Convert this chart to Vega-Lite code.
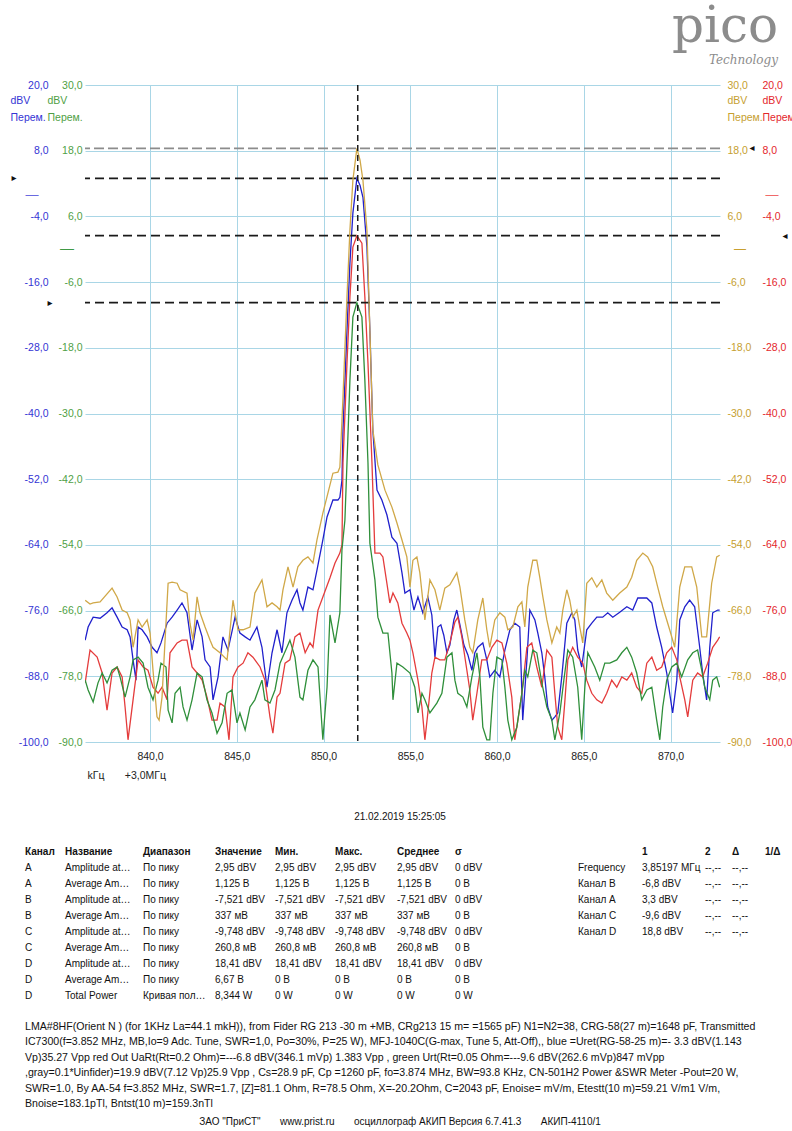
{
"$schema": "https://vega.github.io/schema/vega-lite/v6.json",
"padding": {"left": 10, "top": 2, "right": 0, "bottom": 0},
"background": "white",
"config": {
  "locale": {"number": {"decimal": ",", "thousands": " ", "grouping": [3], "currency": ["", ""], "minus": "-"}},
  "view": {"stroke": null},
  "font": "Liberation Sans",
  "axis": {"labelFont": "Liberation Sans", "titleFont": "Liberation Sans", "labelFontSize": 10.5, "titleFontSize": 10.5, "titleFontWeight": "normal", "labelFlush": false, "labelOverlap": false, "labelBound": false, "domain": false, "ticks": false, "tickSize": 0, "gridColor": "#a9d6e6", "gridOpacity": 1, "gridWidth": 1},
  "text": {"font": "Liberation Sans", "fontSize": 10.5, "color": "#111111"}
},
"datasets": {
  "A": [{"kHz":836.26,"dBV":-81.4},{"kHz":836.43,"dBV":-79.0},{"kHz":836.72,"dBV":-77.2},{"kHz":837.12,"dBV":-77.4},{"kHz":837.52,"dBV":-76.4},{"kHz":837.81,"dBV":-75.5},{"kHz":838.10,"dBV":-77.2},{"kHz":838.39,"dBV":-79.0},{"kHz":838.68,"dBV":-79.5},{"kHz":838.85,"dBV":-80.8},{"kHz":839.02,"dBV":-85.0},{"kHz":839.19,"dBV":-88.7},{"kHz":839.31,"dBV":-79.0},{"kHz":839.54,"dBV":-79.5},{"kHz":839.83,"dBV":-80.8},{"kHz":840.12,"dBV":-82.7},{"kHz":840.40,"dBV":-83.7},{"kHz":840.63,"dBV":-81.9},{"kHz":840.98,"dBV":-78.3},{"kHz":841.27,"dBV":-77.2},{"kHz":841.56,"dBV":-75.9},{"kHz":841.84,"dBV":-74.6},{"kHz":842.13,"dBV":-76.4},{"kHz":842.42,"dBV":-83.2},{"kHz":842.71,"dBV":-77.7},{"kHz":843.00,"dBV":-80.8},{"kHz":843.17,"dBV":-85.0},{"kHz":843.46,"dBV":-86.3},{"kHz":843.63,"dBV":-92.3},{"kHz":843.92,"dBV":-88.1},{"kHz":844.20,"dBV":-80.8},{"kHz":844.49,"dBV":-83.2},{"kHz":844.90,"dBV":-77.2},{"kHz":845.18,"dBV":-80.1},{"kHz":845.48,"dBV":-80.8},{"kHz":845.76,"dBV":-81.4},{"kHz":846.16,"dBV":-79.0},{"kHz":846.45,"dBV":-82.7},{"kHz":846.74,"dBV":-90.0},{"kHz":847.03,"dBV":-83.7},{"kHz":847.32,"dBV":-79.5},{"kHz":847.60,"dBV":-83.7},{"kHz":847.89,"dBV":-76.4},{"kHz":848.18,"dBV":-74.1},{"kHz":848.47,"dBV":-72.2},{"kHz":848.64,"dBV":-74.6},{"kHz":848.81,"dBV":-75.9},{"kHz":849.10,"dBV":-71.7},{"kHz":849.39,"dBV":-72.2},{"kHz":849.62,"dBV":-68.6},{"kHz":849.96,"dBV":-63.1},{"kHz":850.20,"dBV":-58.9},{"kHz":850.54,"dBV":-55.8},{"kHz":850.83,"dBV":-55.8},{"kHz":850.94,"dBV":-55.3},{"kHz":851.06,"dBV":-52.2},{"kHz":851.12,"dBV":-43.0},{"kHz":851.35,"dBV":-24.8},{"kHz":851.52,"dBV":-12.5},{"kHz":851.69,"dBV":-3.4},{"kHz":851.92,"dBV":2.95},{"kHz":852.10,"dBV":1.7},{"kHz":852.27,"dBV":-0.5},{"kHz":852.50,"dBV":-9.6},{"kHz":852.67,"dBV":-24.8},{"kHz":852.84,"dBV":-43.0},{"kHz":853.08,"dBV":-54.0},{"kHz":853.36,"dBV":-55.8},{"kHz":853.65,"dBV":-58.5},{"kHz":853.94,"dBV":-62.6},{"kHz":854.23,"dBV":-63.7},{"kHz":854.52,"dBV":-69.1},{"kHz":854.69,"dBV":-72.8},{"kHz":854.98,"dBV":-72.2},{"kHz":855.21,"dBV":-75.9},{"kHz":855.44,"dBV":-73.5},{"kHz":855.72,"dBV":-76.4},{"kHz":856.01,"dBV":-73.5},{"kHz":856.24,"dBV":-76.8},{"kHz":856.42,"dBV":-84.5},{"kHz":856.59,"dBV":-79.0},{"kHz":856.76,"dBV":-78.6},{"kHz":856.93,"dBV":-80.5},{"kHz":857.11,"dBV":-83.7},{"kHz":857.28,"dBV":-82.3},{"kHz":857.51,"dBV":-77.7},{"kHz":857.68,"dBV":-75.9},{"kHz":857.86,"dBV":-78.6},{"kHz":858.09,"dBV":-82.3},{"kHz":858.32,"dBV":-84.1},{"kHz":858.55,"dBV":-86.9},{"kHz":858.72,"dBV":-83.7},{"kHz":858.89,"dBV":-82.7},{"kHz":859.18,"dBV":-81.9},{"kHz":859.41,"dBV":-85.0},{"kHz":859.58,"dBV":-88.1},{"kHz":859.87,"dBV":-86.9},{"kHz":860.16,"dBV":-88.1},{"kHz":860.45,"dBV":-83.2},{"kHz":860.74,"dBV":-79.5},{"kHz":861.02,"dBV":-78.3},{"kHz":861.31,"dBV":-79.0},{"kHz":861.48,"dBV":-96.0},{"kHz":861.72,"dBV":-85.0},{"kHz":861.89,"dBV":-75.9},{"kHz":862.18,"dBV":-77.7},{"kHz":862.35,"dBV":-80.1},{"kHz":862.58,"dBV":-83.7},{"kHz":862.75,"dBV":-88.1},{"kHz":862.92,"dBV":-93.6},{"kHz":863.16,"dBV":-96.0},{"kHz":863.33,"dBV":-95.4},{"kHz":863.50,"dBV":-94.7},{"kHz":863.73,"dBV":-88.1},{"kHz":864.02,"dBV":-78.3},{"kHz":864.31,"dBV":-76.4},{"kHz":864.48,"dBV":-77.7},{"kHz":864.65,"dBV":-83.2},{"kHz":864.88,"dBV":-86.3},{"kHz":865.17,"dBV":-79.5},{"kHz":865.46,"dBV":-78.3},{"kHz":865.75,"dBV":-77.2},{"kHz":866.09,"dBV":-77.2},{"kHz":866.38,"dBV":-76.4},{"kHz":866.67,"dBV":-77.2},{"kHz":867.07,"dBV":-76.3},{"kHz":867.48,"dBV":-75.3},{"kHz":867.82,"dBV":-75.9},{"kHz":868.11,"dBV":-73.7},{"kHz":868.63,"dBV":-73.7},{"kHz":868.92,"dBV":-74.6},{"kHz":869.20,"dBV":-79.0},{"kHz":869.49,"dBV":-82.7},{"kHz":869.78,"dBV":-87.4},{"kHz":869.95,"dBV":-91.1},{"kHz":870.12,"dBV":-94.7},{"kHz":870.36,"dBV":-88.7},{"kHz":870.53,"dBV":-77.7},{"kHz":870.82,"dBV":-75.3},{"kHz":871.10,"dBV":-74.1},{"kHz":871.39,"dBV":-75.3},{"kHz":871.68,"dBV":-82.7},{"kHz":871.85,"dBV":-87.4},{"kHz":872.08,"dBV":-92.3},{"kHz":872.26,"dBV":-82.7},{"kHz":872.43,"dBV":-76.4},{"kHz":872.72,"dBV":-75.9},{"kHz":872.83,"dBV":-75.9}],
  "B": [{"kHz":836.26,"dBV":-89.2},{"kHz":836.54,"dBV":-83.2},{"kHz":836.95,"dBV":-84.5},{"kHz":837.24,"dBV":-87.4},{"kHz":837.52,"dBV":-94.2},{"kHz":837.81,"dBV":-87.4},{"kHz":838.10,"dBV":-86.3},{"kHz":838.39,"dBV":-88.1},{"kHz":838.56,"dBV":-93.6},{"kHz":838.73,"dBV":-99.6},{"kHz":839.02,"dBV":-92.3},{"kHz":839.31,"dBV":-85.0},{"kHz":839.60,"dBV":-86.3},{"kHz":839.88,"dBV":-86.9},{"kHz":840.17,"dBV":-90.0},{"kHz":840.46,"dBV":-91.1},{"kHz":840.69,"dBV":-90.0},{"kHz":840.98,"dBV":-92.3},{"kHz":841.15,"dBV":-83.7},{"kHz":841.56,"dBV":-81.9},{"kHz":841.84,"dBV":-81.4},{"kHz":842.13,"dBV":-81.4},{"kHz":842.42,"dBV":-86.3},{"kHz":842.71,"dBV":-87.4},{"kHz":843.00,"dBV":-88.7},{"kHz":843.28,"dBV":-91.8},{"kHz":843.57,"dBV":-96.0},{"kHz":843.86,"dBV":-96.0},{"kHz":844.03,"dBV":-92.9},{"kHz":844.32,"dBV":-93.6},{"kHz":844.55,"dBV":-99.6},{"kHz":844.78,"dBV":-88.1},{"kHz":845.07,"dBV":-86.3},{"kHz":845.36,"dBV":-85.6},{"kHz":845.64,"dBV":-83.7},{"kHz":845.93,"dBV":-84.5},{"kHz":846.34,"dBV":-86.3},{"kHz":846.62,"dBV":-88.7},{"kHz":846.91,"dBV":-95.4},{"kHz":847.08,"dBV":-98.4},{"kHz":847.32,"dBV":-91.8},{"kHz":847.49,"dBV":-91.1},{"kHz":847.78,"dBV":-85.6},{"kHz":848.06,"dBV":-85.0},{"kHz":848.35,"dBV":-80.8},{"kHz":848.64,"dBV":-80.1},{"kHz":848.94,"dBV":-83.7},{"kHz":849.22,"dBV":-81.9},{"kHz":849.39,"dBV":-82.7},{"kHz":849.68,"dBV":-75.9},{"kHz":849.96,"dBV":-73.5},{"kHz":850.37,"dBV":-70.0},{"kHz":850.66,"dBV":-67.3},{"kHz":850.94,"dBV":-65.5},{"kHz":851.06,"dBV":-64.0},{"kHz":851.12,"dBV":-49.0},{"kHz":851.35,"dBV":-30.8},{"kHz":851.52,"dBV":-18.7},{"kHz":851.69,"dBV":-9.6},{"kHz":851.92,"dBV":-7.52},{"kHz":852.21,"dBV":-8.9},{"kHz":852.38,"dBV":-18.7},{"kHz":852.56,"dBV":-30.8},{"kHz":852.79,"dBV":-49.0},{"kHz":852.96,"dBV":-65.5},{"kHz":853.25,"dBV":-65.5},{"kHz":853.42,"dBV":-66.2},{"kHz":853.65,"dBV":-71.0},{"kHz":853.82,"dBV":-74.6},{"kHz":854.00,"dBV":-72.8},{"kHz":854.28,"dBV":-74.6},{"kHz":854.52,"dBV":-78.3},{"kHz":854.80,"dBV":-80.1},{"kHz":854.98,"dBV":-81.4},{"kHz":855.15,"dBV":-83.7},{"kHz":855.44,"dBV":-88.7},{"kHz":855.67,"dBV":-93.6},{"kHz":855.84,"dBV":-99.6},{"kHz":856.01,"dBV":-94.7},{"kHz":856.24,"dBV":-87.4},{"kHz":856.42,"dBV":-84.5},{"kHz":856.70,"dBV":-85.0},{"kHz":856.99,"dBV":-85.0},{"kHz":857.28,"dBV":-81.9},{"kHz":857.57,"dBV":-78.1},{"kHz":857.74,"dBV":-77.2},{"kHz":857.97,"dBV":-80.8},{"kHz":858.26,"dBV":-86.9},{"kHz":858.43,"dBV":-90.5},{"kHz":858.60,"dBV":-96.0},{"kHz":858.84,"dBV":-91.1},{"kHz":859.12,"dBV":-85.0},{"kHz":859.41,"dBV":-85.0},{"kHz":859.70,"dBV":-82.7},{"kHz":859.99,"dBV":-81.4},{"kHz":860.28,"dBV":-81.9},{"kHz":860.56,"dBV":-85.6},{"kHz":860.85,"dBV":-91.8},{"kHz":861.02,"dBV":-99.6},{"kHz":861.20,"dBV":-96.0},{"kHz":861.43,"dBV":-91.1},{"kHz":861.72,"dBV":-82.7},{"kHz":862.00,"dBV":-81.9},{"kHz":862.29,"dBV":-86.3},{"kHz":862.58,"dBV":-90.0},{"kHz":862.87,"dBV":-83.2},{"kHz":863.16,"dBV":-84.5},{"kHz":863.33,"dBV":-91.1},{"kHz":863.50,"dBV":-97.3},{"kHz":863.73,"dBV":-99.6},{"kHz":863.90,"dBV":-92.9},{"kHz":864.08,"dBV":-85.0},{"kHz":864.36,"dBV":-82.7},{"kHz":864.65,"dBV":-84.5},{"kHz":864.94,"dBV":-85.6},{"kHz":865.17,"dBV":-88.7},{"kHz":865.46,"dBV":-91.1},{"kHz":865.75,"dBV":-92.3},{"kHz":866.04,"dBV":-92.9},{"kHz":866.32,"dBV":-91.1},{"kHz":866.61,"dBV":-88.7},{"kHz":866.90,"dBV":-90.0},{"kHz":867.19,"dBV":-88.1},{"kHz":867.48,"dBV":-88.7},{"kHz":867.76,"dBV":-87.4},{"kHz":868.05,"dBV":-90.0},{"kHz":868.34,"dBV":-91.1},{"kHz":868.63,"dBV":-85.6},{"kHz":868.92,"dBV":-84.5},{"kHz":869.20,"dBV":-86.9},{"kHz":869.49,"dBV":-86.3},{"kHz":869.78,"dBV":-83.7},{"kHz":870.07,"dBV":-82.7},{"kHz":870.36,"dBV":-85.0},{"kHz":870.53,"dBV":-88.1},{"kHz":870.82,"dBV":-92.3},{"kHz":870.99,"dBV":-95.4},{"kHz":871.28,"dBV":-88.7},{"kHz":871.56,"dBV":-87.4},{"kHz":871.85,"dBV":-88.1},{"kHz":872.14,"dBV":-85.6},{"kHz":872.43,"dBV":-82.7},{"kHz":872.72,"dBV":-81.4},{"kHz":872.83,"dBV":-80.8}],
  "C": [{"kHz":836.26,"dBV":-78.7},{"kHz":836.43,"dBV":-80.5},{"kHz":836.72,"dBV":-82.7},{"kHz":837.00,"dBV":-79.2},{"kHz":837.24,"dBV":-77.4},{"kHz":837.52,"dBV":-79.2},{"kHz":837.81,"dBV":-76.9},{"kHz":838.10,"dBV":-76.3},{"kHz":838.27,"dBV":-78.1},{"kHz":838.56,"dBV":-81.8},{"kHz":838.85,"dBV":-78.1},{"kHz":839.02,"dBV":-75.0},{"kHz":839.31,"dBV":-74.5},{"kHz":839.60,"dBV":-75.6},{"kHz":839.88,"dBV":-80.0},{"kHz":840.17,"dBV":-82.3},{"kHz":840.46,"dBV":-78.7},{"kHz":840.63,"dBV":-75.6},{"kHz":840.92,"dBV":-76.3},{"kHz":841.04,"dBV":-84.2},{"kHz":841.27,"dBV":-86.5},{"kHz":841.44,"dBV":-81.1},{"kHz":841.73,"dBV":-80.0},{"kHz":841.90,"dBV":-83.6},{"kHz":842.13,"dBV":-86.0},{"kHz":842.42,"dBV":-82.3},{"kHz":842.71,"dBV":-77.4},{"kHz":843.00,"dBV":-78.1},{"kHz":843.28,"dBV":-82.3},{"kHz":843.57,"dBV":-84.7},{"kHz":843.86,"dBV":-88.4},{"kHz":844.15,"dBV":-86.5},{"kHz":844.44,"dBV":-81.1},{"kHz":844.72,"dBV":-80.5},{"kHz":845.01,"dBV":-86.5},{"kHz":845.18,"dBV":-84.7},{"kHz":845.48,"dBV":-87.8},{"kHz":845.76,"dBV":-83.6},{"kHz":846.04,"dBV":-82.3},{"kHz":846.45,"dBV":-78.7},{"kHz":846.62,"dBV":-82.3},{"kHz":846.91,"dBV":-82.9},{"kHz":847.20,"dBV":-80.5},{"kHz":847.49,"dBV":-75.6},{"kHz":847.89,"dBV":-72.7},{"kHz":848.06,"dBV":-71.4},{"kHz":848.35,"dBV":-74.5},{"kHz":848.64,"dBV":-81.8},{"kHz":848.81,"dBV":-82.3},{"kHz":849.10,"dBV":-76.9},{"kHz":849.39,"dBV":-75.0},{"kHz":849.68,"dBV":-76.3},{"kHz":849.96,"dBV":-89.6},{"kHz":850.20,"dBV":-80.0},{"kHz":850.37,"dBV":-66.8},{"kHz":850.66,"dBV":-71.9},{"kHz":850.94,"dBV":-66.4},{"kHz":851.06,"dBV":-54.9},{"kHz":851.23,"dBV":-49.5},{"kHz":851.35,"dBV":-39.0},{"kHz":851.52,"dBV":-23.9},{"kHz":851.69,"dBV":-12.4},{"kHz":851.92,"dBV":-9.75},{"kHz":852.21,"dBV":-12.4},{"kHz":852.38,"dBV":-23.9},{"kHz":852.56,"dBV":-39.0},{"kHz":852.67,"dBV":-53.7},{"kHz":852.96,"dBV":-60.4},{"kHz":853.13,"dBV":-67.2},{"kHz":853.42,"dBV":-70.1},{"kHz":853.71,"dBV":-70.1},{"kHz":853.94,"dBV":-77.4},{"kHz":854.00,"dBV":-82.3},{"kHz":854.23,"dBV":-75.6},{"kHz":854.57,"dBV":-76.3},{"kHz":854.98,"dBV":-77.4},{"kHz":855.26,"dBV":-80.0},{"kHz":855.44,"dBV":-84.7},{"kHz":855.67,"dBV":-81.1},{"kHz":855.84,"dBV":-82.3},{"kHz":856.13,"dBV":-84.7},{"kHz":856.53,"dBV":-82.9},{"kHz":856.82,"dBV":-81.1},{"kHz":857.11,"dBV":-74.5},{"kHz":857.40,"dBV":-73.7},{"kHz":857.57,"dBV":-78.7},{"kHz":857.74,"dBV":-81.1},{"kHz":858.03,"dBV":-81.8},{"kHz":858.26,"dBV":-83.6},{"kHz":858.55,"dBV":-78.1},{"kHz":858.84,"dBV":-73.7},{"kHz":859.01,"dBV":-78.1},{"kHz":859.18,"dBV":-87.3},{"kHz":859.41,"dBV":-89.6},{"kHz":859.58,"dBV":-89.6},{"kHz":859.76,"dBV":-81.1},{"kHz":859.99,"dBV":-74.5},{"kHz":860.28,"dBV":-75.0},{"kHz":860.45,"dBV":-80.0},{"kHz":860.62,"dBV":-86.0},{"kHz":860.85,"dBV":-89.6},{"kHz":861.14,"dBV":-87.3},{"kHz":861.43,"dBV":-81.1},{"kHz":861.60,"dBV":-76.9},{"kHz":861.77,"dBV":-78.1},{"kHz":862.06,"dBV":-73.2},{"kHz":862.29,"dBV":-73.7},{"kHz":862.58,"dBV":-79.2},{"kHz":862.87,"dBV":-83.6},{"kHz":863.16,"dBV":-86.0},{"kHz":863.33,"dBV":-89.6},{"kHz":863.62,"dBV":-84.7},{"kHz":863.85,"dBV":-78.7},{"kHz":864.08,"dBV":-73.2},{"kHz":864.36,"dBV":-74.5},{"kHz":864.65,"dBV":-80.0},{"kHz":864.88,"dBV":-89.6},{"kHz":865.06,"dBV":-80.0},{"kHz":865.23,"dBV":-73.7},{"kHz":865.63,"dBV":-76.3},{"kHz":865.92,"dBV":-78.7},{"kHz":866.21,"dBV":-75.6},{"kHz":866.50,"dBV":-75.6},{"kHz":866.90,"dBV":-75.0},{"kHz":867.19,"dBV":-73.7},{"kHz":867.48,"dBV":-72.7},{"kHz":867.76,"dBV":-74.5},{"kHz":868.05,"dBV":-77.4},{"kHz":868.34,"dBV":-82.3},{"kHz":868.63,"dBV":-80.5},{"kHz":868.92,"dBV":-80.0},{"kHz":869.20,"dBV":-86.0},{"kHz":869.38,"dBV":-89.6},{"kHz":869.55,"dBV":-83.6},{"kHz":869.78,"dBV":-78.7},{"kHz":870.07,"dBV":-76.3},{"kHz":870.36,"dBV":-75.6},{"kHz":870.64,"dBV":-78.1},{"kHz":870.99,"dBV":-75.0},{"kHz":871.28,"dBV":-73.7},{"kHz":871.56,"dBV":-73.2},{"kHz":871.80,"dBV":-76.9},{"kHz":871.97,"dBV":-80.0},{"kHz":872.26,"dBV":-82.3},{"kHz":872.43,"dBV":-78.7},{"kHz":872.66,"dBV":-78.1},{"kHz":872.83,"dBV":-80.0}],
  "D": [{"kHz":836.26,"dBV":-64.1},{"kHz":836.54,"dBV":-64.8},{"kHz":836.72,"dBV":-64.6},{"kHz":837.12,"dBV":-64.4},{"kHz":837.81,"dBV":-61.9},{"kHz":838.10,"dBV":-63.5},{"kHz":838.39,"dBV":-65.9},{"kHz":838.68,"dBV":-66.4},{"kHz":838.85,"dBV":-67.7},{"kHz":839.02,"dBV":-72.7},{"kHz":839.31,"dBV":-67.7},{"kHz":839.54,"dBV":-69.0},{"kHz":839.83,"dBV":-67.7},{"kHz":840.00,"dBV":-70.1},{"kHz":840.17,"dBV":-76.9},{"kHz":840.40,"dBV":-85.4},{"kHz":840.52,"dBV":-86.0},{"kHz":840.69,"dBV":-81.8},{"kHz":841.04,"dBV":-61.0},{"kHz":841.27,"dBV":-60.8},{"kHz":841.56,"dBV":-61.0},{"kHz":841.73,"dBV":-62.2},{"kHz":842.13,"dBV":-62.8},{"kHz":842.30,"dBV":-68.3},{"kHz":842.48,"dBV":-71.4},{"kHz":842.71,"dBV":-63.5},{"kHz":842.88,"dBV":-66.4},{"kHz":843.17,"dBV":-69.0},{"kHz":843.46,"dBV":-71.4},{"kHz":843.63,"dBV":-72.7},{"kHz":844.03,"dBV":-73.7},{"kHz":844.44,"dBV":-75.0},{"kHz":844.78,"dBV":-64.1},{"kHz":845.07,"dBV":-69.5},{"kHz":845.36,"dBV":-69.5},{"kHz":845.76,"dBV":-69.0},{"kHz":846.04,"dBV":-62.8},{"kHz":846.45,"dBV":-60.4},{"kHz":846.74,"dBV":-65.3},{"kHz":847.03,"dBV":-64.6},{"kHz":847.32,"dBV":-65.3},{"kHz":847.49,"dBV":-65.9},{"kHz":847.66,"dBV":-62.2},{"kHz":847.95,"dBV":-58.0},{"kHz":848.24,"dBV":-61.7},{"kHz":848.52,"dBV":-58.0},{"kHz":848.81,"dBV":-56.8},{"kHz":849.10,"dBV":-56.2},{"kHz":849.39,"dBV":-57.3},{"kHz":849.62,"dBV":-53.1},{"kHz":849.96,"dBV":-48.2},{"kHz":850.54,"dBV":-40.9},{"kHz":850.83,"dBV":-40.7},{"kHz":850.94,"dBV":-39.8},{"kHz":851.12,"dBV":-27.0},{"kHz":851.35,"dBV":-8.7},{"kHz":851.52,"dBV":3.5},{"kHz":851.69,"dBV":12.6},{"kHz":851.92,"dBV":18.41},{"kHz":852.10,"dBV":16.3},{"kHz":852.27,"dBV":12.6},{"kHz":852.50,"dBV":3.5},{"kHz":852.67,"dBV":-14.8},{"kHz":852.84,"dBV":-33.0},{"kHz":853.13,"dBV":-39.4},{"kHz":853.54,"dBV":-44.0},{"kHz":853.94,"dBV":-47.1},{"kHz":854.23,"dBV":-50.0},{"kHz":854.52,"dBV":-53.1},{"kHz":854.80,"dBV":-56.2},{"kHz":854.98,"dBV":-61.7},{"kHz":855.15,"dBV":-56.8},{"kHz":855.38,"dBV":-56.2},{"kHz":855.55,"dBV":-59.1},{"kHz":855.84,"dBV":-67.7},{"kHz":856.13,"dBV":-60.4},{"kHz":856.42,"dBV":-62.2},{"kHz":856.70,"dBV":-65.9},{"kHz":856.99,"dBV":-61.9},{"kHz":857.28,"dBV":-61.3},{"kHz":857.68,"dBV":-59.1},{"kHz":857.86,"dBV":-61.7},{"kHz":858.14,"dBV":-67.7},{"kHz":858.43,"dBV":-72.7},{"kHz":858.60,"dBV":-73.7},{"kHz":858.89,"dBV":-67.7},{"kHz":859.18,"dBV":-63.7},{"kHz":859.41,"dBV":-69.5},{"kHz":859.58,"dBV":-72.7},{"kHz":859.87,"dBV":-67.7},{"kHz":860.16,"dBV":-66.4},{"kHz":860.45,"dBV":-67.2},{"kHz":860.62,"dBV":-69.5},{"kHz":860.91,"dBV":-69.0},{"kHz":861.20,"dBV":-65.3},{"kHz":861.43,"dBV":-64.4},{"kHz":861.60,"dBV":-69.0},{"kHz":861.77,"dBV":-61.7},{"kHz":862.06,"dBV":-56.8},{"kHz":862.29,"dBV":-56.8},{"kHz":862.46,"dBV":-59.9},{"kHz":862.64,"dBV":-63.5},{"kHz":862.87,"dBV":-67.7},{"kHz":863.16,"dBV":-71.9},{"kHz":863.44,"dBV":-69.0},{"kHz":863.62,"dBV":-70.1},{"kHz":863.79,"dBV":-65.9},{"kHz":864.02,"dBV":-62.2},{"kHz":864.19,"dBV":-64.1},{"kHz":864.36,"dBV":-67.2},{"kHz":864.60,"dBV":-65.9},{"kHz":864.77,"dBV":-69.0},{"kHz":864.94,"dBV":-71.9},{"kHz":865.17,"dBV":-61.0},{"kHz":865.46,"dBV":-60.0},{"kHz":865.75,"dBV":-61.7},{"kHz":866.04,"dBV":-60.4},{"kHz":866.32,"dBV":-62.8},{"kHz":866.67,"dBV":-64.1},{"kHz":867.07,"dBV":-62.8},{"kHz":867.48,"dBV":-61.7},{"kHz":867.76,"dBV":-59.9},{"kHz":868.05,"dBV":-56.8},{"kHz":868.40,"dBV":-55.5},{"kHz":868.68,"dBV":-56.2},{"kHz":868.97,"dBV":-58.0},{"kHz":869.26,"dBV":-61.7},{"kHz":869.55,"dBV":-65.3},{"kHz":869.95,"dBV":-69.5},{"kHz":870.24,"dBV":-72.7},{"kHz":870.53,"dBV":-61.7},{"kHz":870.82,"dBV":-58.0},{"kHz":871.22,"dBV":-58.0},{"kHz":871.51,"dBV":-61.7},{"kHz":871.80,"dBV":-70.8},{"kHz":872.08,"dBV":-70.8},{"kHz":872.37,"dBV":-61.0},{"kHz":872.66,"dBV":-56.2},{"kHz":872.83,"dBV":-55.9}],
  "head": [{"r":0,"c":0,"t":"Канал"},{"r":0,"c":1,"t":"Название"},{"r":0,"c":2,"t":"Диапазон"},{"r":0,"c":3,"t":"Значение"},{"r":0,"c":4,"t":"Мин."},{"r":0,"c":5,"t":"Макс."},{"r":0,"c":6,"t":"Среднее"},{"r":0,"c":7,"t":"σ"},{"r":0,"c":9,"t":"1"},{"r":0,"c":10,"t":"2"},{"r":0,"c":11,"t":"Δ"},{"r":0,"c":12,"t":"1/Δ"}],
  "body": [
    {"r":1,"c":0,"t":"A"},{"r":1,"c":1,"t":"Amplitude at…"},{"r":1,"c":2,"t":"По пику"},{"r":1,"c":3,"t":"2,95 dBV"},{"r":1,"c":4,"t":"2,95 dBV"},{"r":1,"c":5,"t":"2,95 dBV"},{"r":1,"c":6,"t":"2,95 dBV"},{"r":1,"c":7,"t":"0 dBV"},
    {"r":2,"c":0,"t":"A"},{"r":2,"c":1,"t":"Average Am…"},{"r":2,"c":2,"t":"По пику"},{"r":2,"c":3,"t":"1,125 В"},{"r":2,"c":4,"t":"1,125 В"},{"r":2,"c":5,"t":"1,125 В"},{"r":2,"c":6,"t":"1,125 В"},{"r":2,"c":7,"t":"0 В"},
    {"r":3,"c":0,"t":"B"},{"r":3,"c":1,"t":"Amplitude at…"},{"r":3,"c":2,"t":"По пику"},{"r":3,"c":3,"t":"-7,521 dBV"},{"r":3,"c":4,"t":"-7,521 dBV"},{"r":3,"c":5,"t":"-7,521 dBV"},{"r":3,"c":6,"t":"-7,521 dBV"},{"r":3,"c":7,"t":"0 dBV"},
    {"r":4,"c":0,"t":"B"},{"r":4,"c":1,"t":"Average Am…"},{"r":4,"c":2,"t":"По пику"},{"r":4,"c":3,"t":"337 мВ"},{"r":4,"c":4,"t":"337 мВ"},{"r":4,"c":5,"t":"337 мВ"},{"r":4,"c":6,"t":"337 мВ"},{"r":4,"c":7,"t":"0 В"},
    {"r":5,"c":0,"t":"C"},{"r":5,"c":1,"t":"Amplitude at…"},{"r":5,"c":2,"t":"По пику"},{"r":5,"c":3,"t":"-9,748 dBV"},{"r":5,"c":4,"t":"-9,748 dBV"},{"r":5,"c":5,"t":"-9,748 dBV"},{"r":5,"c":6,"t":"-9,748 dBV"},{"r":5,"c":7,"t":"0 dBV"},
    {"r":6,"c":0,"t":"C"},{"r":6,"c":1,"t":"Average Am…"},{"r":6,"c":2,"t":"По пику"},{"r":6,"c":3,"t":"260,8 мВ"},{"r":6,"c":4,"t":"260,8 мВ"},{"r":6,"c":5,"t":"260,8 мВ"},{"r":6,"c":6,"t":"260,8 мВ"},{"r":6,"c":7,"t":"0 В"},
    {"r":7,"c":0,"t":"D"},{"r":7,"c":1,"t":"Amplitude at…"},{"r":7,"c":2,"t":"По пику"},{"r":7,"c":3,"t":"18,41 dBV"},{"r":7,"c":4,"t":"18,41 dBV"},{"r":7,"c":5,"t":"18,41 dBV"},{"r":7,"c":6,"t":"18,41 dBV"},{"r":7,"c":7,"t":"0 dBV"},
    {"r":8,"c":0,"t":"D"},{"r":8,"c":1,"t":"Average Am…"},{"r":8,"c":2,"t":"По пику"},{"r":8,"c":3,"t":"6,67 В"},{"r":8,"c":4,"t":"0 В"},{"r":8,"c":5,"t":"0 В"},{"r":8,"c":6,"t":"0 В"},{"r":8,"c":7,"t":"0 В"},
    {"r":9,"c":0,"t":"D"},{"r":9,"c":1,"t":"Total Power"},{"r":9,"c":2,"t":"Кривая пол…"},{"r":9,"c":3,"t":"8,344 W"},{"r":9,"c":4,"t":"0 W"},{"r":9,"c":5,"t":"0 W"},{"r":9,"c":6,"t":"0 W"},{"r":9,"c":7,"t":"0 W"},
    {"r":1,"c":8,"t":"Frequency"},{"r":1,"c":9,"t":"3,85197 МГц"},{"r":1,"c":10,"t":"--,--"},{"r":1,"c":11,"t":"--,--"},
    {"r":2,"c":8,"t":"Канал B"},{"r":2,"c":9,"t":"-6,8 dBV"},{"r":2,"c":10,"t":"--,--"},{"r":2,"c":11,"t":"--,--"},
    {"r":3,"c":8,"t":"Канал A"},{"r":3,"c":9,"t":"3,3 dBV"},{"r":3,"c":10,"t":"--,--"},{"r":3,"c":11,"t":"--,--"},
    {"r":4,"c":8,"t":"Канал C"},{"r":4,"c":9,"t":"-9,6 dBV"},{"r":4,"c":10,"t":"--,--"},{"r":4,"c":11,"t":"--,--"},
    {"r":5,"c":8,"t":"Канал D"},{"r":5,"c":9,"t":"18,8 dBV"},{"r":5,"c":10,"t":"--,--"},{"r":5,"c":11,"t":"--,--"}
  ],
  "para": [
    {"r":0,"c":0,"t":"LMA#8HF(Orient N ) (for 1KHz  La=44.1 mkH)), from Fider RG 213 -30 m +MB, CRg213 15 m= =1565 pF) N1=N2=38, CRG-58(27 m)=1648 pF, Transmitted"},
    {"r":1,"c":0,"t":"IC7300(f=3.852 MHz, MB,Io=9 Adc. Tune, SWR=1,0, Po=30%, P=25 W), MFJ-1040C(G-max, Tune 5, Att-Off),, blue =Uret(RG-58-25 m)=- 3.3 dBV(1.143"},
    {"r":2,"c":0,"t":"Vp)35.27 Vpp  red Out UaRt(Rt=0.2 Ohm)=---6.8 dBV(346.1 mVp) 1.383 Vpp ,  green Urt(Rt=0.05 Ohm=---9.6 dBV(262.6 mVp)847 mVpp"},
    {"r":3,"c":0,"t":",gray=0.1*Uinfider)=19.9 dBV(7.12 Vp)25.9 Vpp , Cs=28.9 pF, Cp =1260 pF, fo=3.874 MHz, BW=93.8 KHz, CN-501H2 Power &SWR Meter -Pout=20 W,"},
    {"r":4,"c":0,"t":"SWR=1.0, By AA-54 f=3.852 MHz, SWR=1.7, [Z]=81.1 Ohm, R=78.5 Ohm, X=-20.2Ohm,  C=2043 pF, Enoise= mV/m, Etestt(10 m)=59.21 V/m1 V/m,"},
    {"r":5,"c":0,"t":"Bnoise=183.1pTl, Bntst(10 m)=159.3nTl"}
  ]
},
"bounds": "flush",
"spacing": 0,
"vconcat": [
  {
    "width": 635,
    "height": 657,
    "title": {"text": "pico", "subtitle": "Technology", "anchor": "end", "frame": "group", "font": "DejaVu Serif", "fontSize": 50, "fontWeight": "normal", "color": "#8c8c8c", "subtitleFont": "DejaVu Serif", "subtitleFontStyle": "italic", "subtitleFontSize": 12, "subtitleColor": "#8c8c8c", "subtitlePadding": 3, "dx": 58, "offset": 14},
    "layer": [
      {
        "data": {"name": "A"},
        "encoding": {"y": {"field": "dBV", "type": "quantitative", "scale": {"domain": [-100, 20], "nice": false, "zero": false}, "axis": {"orient": "left", "offset": 35, "values": [-100, -88, -76, -64, -52, -40, -28, -16, -4, 8, 20], "format": ".1f", "grid": true, "labelPadding": 2, "labelColor": "#3434d4", "title": ["dBV", "Перем."], "titleColor": "#3434d4", "titleAngle": 0, "titleAlign": "left", "titleBaseline": "top", "titleX": -40, "titleY": 10, "titleLineHeight": 17}}},
        "layer": [
          {"mark": {"type": "line", "color": "#2020cc", "strokeWidth": 1.3, "clip": true}, "encoding": {"x": {"field": "kHz", "type": "quantitative", "scale": {"domain": [836.25, 872.85], "nice": false, "zero": false}, "axis": {"values": [840, 845, 850, 855, 860, 865, 870], "format": ".1f", "grid": true, "labelPadding": 9, "labelColor": "#222222", "title": "kГц\u00a0\u00a0\u00a0\u00a0\u00a0\u00a0\u00a0+3,0МГц", "titleColor": "#222222", "titleAnchor": "start", "titleAlign": "left", "titleBaseline": "middle", "titleX": 2, "titleY": 33}}}},
          {"data": {"values": [{"dBV": 2.95}]}, "mark": {"type": "rule", "color": "#1a1a1a", "strokeWidth": 1.6, "strokeDash": [9, 5]}},
          {"data": {"values": [{"kHz": 833.2, "dBV": 0, "s": "—"}]}, "mark": {"type": "text", "color": "#6a6ae0", "fontSize": 13, "align": "center", "baseline": "middle"}, "encoding": {"x": {"field": "kHz", "type": "quantitative"}, "text": {"field": "s"}}},
          {"data": {"values": [{"kHz": 832.16, "dBV": 2.95, "s": "▸"}]}, "mark": {"type": "text", "color": "#111111", "font": "DejaVu Sans", "fontSize": 10, "align": "center", "baseline": "middle"}, "encoding": {"x": {"field": "kHz", "type": "quantitative"}, "text": {"field": "s"}}}
        ]
      },
      {
        "data": {"name": "B"},
        "encoding": {"y": {"field": "dBV", "type": "quantitative", "scale": {"domain": [-100, 20], "nice": false, "zero": false}, "axis": {"orient": "right", "offset": 35, "values": [-100, -88, -76, -64, -52, -40, -28, -16, -4, 8, 20], "format": ".1f", "grid": false, "labelPadding": 7, "labelColor": "#e4262c", "title": ["dBV", "Перем."], "titleColor": "#e4262c", "titleAngle": 0, "titleAlign": "left", "titleBaseline": "top", "titleX": 7, "titleY": 10, "titleLineHeight": 17}}},
        "layer": [
          {"mark": {"type": "line", "color": "#e43c3c", "strokeWidth": 1.3, "clip": true}, "encoding": {"x": {"field": "kHz", "type": "quantitative", "scale": {"domain": [836.25, 872.85], "nice": false, "zero": false}}}},
          {"data": {"values": [{"dBV": -7.52}]}, "mark": {"type": "rule", "color": "#1a1a1a", "strokeWidth": 1.6, "strokeDash": [9, 5]}},
          {"data": {"values": [{"kHz": 875.85, "dBV": 0, "s": "—"}]}, "mark": {"type": "text", "color": "#f06a6a", "fontSize": 13, "align": "center", "baseline": "middle"}, "encoding": {"x": {"field": "kHz", "type": "quantitative"}, "text": {"field": "s"}}},
          {"data": {"values": [{"kHz": 876.6, "dBV": -7.52, "s": "◂"}]}, "mark": {"type": "text", "color": "#111111", "font": "DejaVu Sans", "fontSize": 10, "align": "center", "baseline": "middle"}, "encoding": {"x": {"field": "kHz", "type": "quantitative"}, "text": {"field": "s"}}}
        ]
      },
      {
        "data": {"name": "C"},
        "encoding": {"y": {"field": "dBV", "type": "quantitative", "scale": {"domain": [-90, 30], "nice": false, "zero": false}, "axis": {"orient": "left", "offset": 0, "values": [-90, -78, -66, -54, -42, -30, -18, -6, 6, 18, 30], "format": ".1f", "grid": false, "labelPadding": 3, "labelColor": "#4f9f45", "title": ["dBV", "Перем."], "titleColor": "#4f9f45", "titleAngle": 0, "titleAlign": "left", "titleBaseline": "top", "titleX": -38, "titleY": 10, "titleLineHeight": 17}}},
        "layer": [
          {"mark": {"type": "line", "color": "#2f8f3a", "strokeWidth": 1.3, "clip": true}, "encoding": {"x": {"field": "kHz", "type": "quantitative", "scale": {"domain": [836.25, 872.85], "nice": false, "zero": false}}}},
          {"data": {"values": [{"dBV": -9.75}]}, "mark": {"type": "rule", "color": "#1a1a1a", "strokeWidth": 1.6, "strokeDash": [9, 5]}},
          {"data": {"values": [{"kHz": 835.21, "dBV": 0, "s": "—"}]}, "mark": {"type": "text", "color": "#3f9a45", "fontSize": 14, "align": "center", "baseline": "middle"}, "encoding": {"x": {"field": "kHz", "type": "quantitative"}, "text": {"field": "s"}}},
          {"data": {"values": [{"kHz": 834.23, "dBV": -9.75, "s": "▸"}]}, "mark": {"type": "text", "color": "#111111", "font": "DejaVu Sans", "fontSize": 10, "align": "center", "baseline": "middle"}, "encoding": {"x": {"field": "kHz", "type": "quantitative"}, "text": {"field": "s"}}}
        ]
      },
      {
        "data": {"name": "D"},
        "encoding": {"y": {"field": "dBV", "type": "quantitative", "scale": {"domain": [-90, 30], "nice": false, "zero": false}, "axis": {"orient": "right", "offset": 0, "values": [-90, -78, -66, -54, -42, -30, -18, -6, 6, 18, 30], "format": ".1f", "grid": false, "labelPadding": 7, "labelColor": "#c6a030", "title": ["dBV", "Перем."], "titleColor": "#c6a030", "titleAngle": 0, "titleAlign": "left", "titleBaseline": "top", "titleX": 7, "titleY": 10, "titleLineHeight": 17}}},
        "layer": [
          {"mark": {"type": "line", "color": "#d0a848", "strokeWidth": 1.3, "clip": true}, "encoding": {"x": {"field": "kHz", "type": "quantitative", "scale": {"domain": [836.25, 872.85], "nice": false, "zero": false}}}},
          {"data": {"values": [{"dBV": 18.41}]}, "mark": {"type": "rule", "color": "#8c8c8c", "strokeWidth": 1.8, "strokeDash": [10, 4]}},
          {"data": {"values": [{"kHz": 874.0, "dBV": 0, "s": "—"}]}, "mark": {"type": "text", "color": "#c8a030", "fontSize": 12, "align": "center", "baseline": "middle"}, "encoding": {"x": {"field": "kHz", "type": "quantitative"}, "text": {"field": "s"}}},
          {"data": {"values": [{"kHz": 874.69, "dBV": 18.41, "s": "◂"}]}, "mark": {"type": "text", "color": "#111111", "font": "DejaVu Sans", "fontSize": 10, "align": "center", "baseline": "middle"}, "encoding": {"x": {"field": "kHz", "type": "quantitative"}, "text": {"field": "s"}}}
        ]
      },
      {
        "data": {"values": [{"kHz": 851.97}]},
        "mark": {"type": "rule", "color": "#1a1a1a", "strokeWidth": 1.5, "strokeDash": [6, 4]},
        "encoding": {"x": {"field": "kHz", "type": "quantitative", "scale": {"domain": [836.25, 872.85], "nice": false, "zero": false}}}
      }
    ],
    "resolve": {"scale": {"y": "independent"}, "axis": {"y": "independent"}}
  },
  {
    "width": 630,
    "height": 262,
    "title": {"text": "21.02.2019 15:25:05", "anchor": "middle", "font": "Liberation Sans", "fontSize": 10, "fontWeight": "normal", "color": "#111111", "offset": -80},
    "layer": [
      {"data": {"name": "head"}, "mark": {"type": "text", "align": "left", "baseline": "middle", "fontWeight": "bold", "fontSize": 10},
       "encoding": {"x": {"field": "c", "type": "quantitative", "scale": {"domain": [0,1,2,3,4,5,6,7,8,9,10,11,12], "range": [-60,-20,58,130,190,250,312,370,493,557,620,647,680], "zero": false, "nice": false}, "axis": null},
                    "y": {"field": "r", "type": "quantitative", "scale": {"domain": [0, 9], "range": [110, 254], "zero": false, "nice": false}, "axis": null},
                    "text": {"field": "t"}}},
      {"data": {"name": "body"}, "mark": {"type": "text", "align": "left", "baseline": "middle", "fontSize": 10},
       "encoding": {"x": {"field": "c", "type": "quantitative", "scale": {"domain": [0,1,2,3,4,5,6,7,8,9,10,11,12], "range": [-60,-20,58,130,190,250,312,370,493,557,620,647,680], "zero": false, "nice": false}, "axis": null},
                    "y": {"field": "r", "type": "quantitative", "scale": {"domain": [0, 9], "range": [110, 254], "zero": false, "nice": false}, "axis": null},
                    "text": {"field": "t"}}}
    ]
  },
  {
    "width": 630,
    "height": 106,
    "data": {"name": "para"},
    "mark": {"type": "text", "align": "left", "baseline": "middle", "fontSize": 10.6},
    "encoding": {
      "x": {"field": "c", "type": "quantitative", "scale": {"domain": [0, 1], "range": [-60, 570], "zero": false, "nice": false}, "axis": null},
      "y": {"field": "r", "type": "ordinal", "scale": {"type": "point", "domain": [0,1,2,3,4,5], "padding": 0.94, "align": 0.79}, "axis": null},
      "text": {"field": "t"}
    }
  },
  {
    "width": 630,
    "height": 1,
    "title": {"text": "ЗАО \"ПриСТ\"\u00a0\u00a0\u00a0\u00a0\u00a0\u00a0\u00a0www.prist.ru\u00a0\u00a0\u00a0\u00a0\u00a0\u00a0\u00a0осциллограф АКИП Версия 6.7.41.3\u00a0\u00a0\u00a0\u00a0\u00a0\u00a0\u00a0АКИП-4110/1", "orient": "bottom", "anchor": "middle", "font": "Liberation Sans", "fontSize": 10, "fontWeight": "normal", "color": "#111111", "offset": 6},
    "mark": {"type": "rule", "color": "#9a9a9a", "strokeWidth": 3},
    "encoding": {
      "x": {"datum": 0, "type": "quantitative", "scale": {"domain": [0, 1], "range": [-65, 690], "zero": false, "nice": false}, "axis": null},
      "x2": {"datum": 1}
    }
  }
]
}
